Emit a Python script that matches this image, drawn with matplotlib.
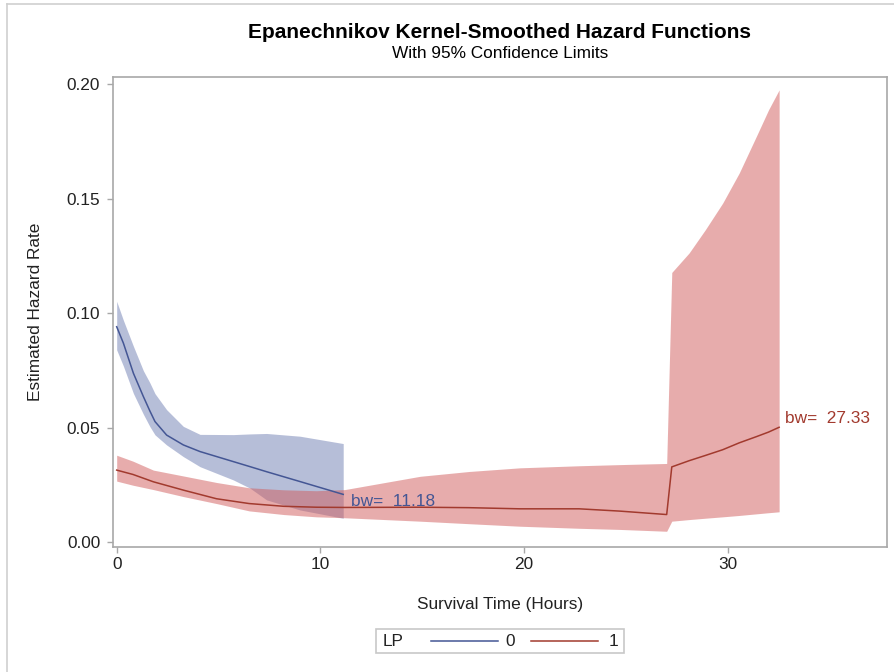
import matplotlib
matplotlib.use("Agg")
import matplotlib.pyplot as plt
from matplotlib.lines import Line2D
from matplotlib.patches import Rectangle

plt.rcParams["font.family"] = ["Liberation Sans", "DejaVu Sans"]

# LP = 0 : time, estimate, 95% limits
t0 = [0, 0.33, 0.82, 1.31, 1.63, 1.88, 2.45, 3.27, 4.09, 5.73, 6.55, 7.36, 9.0, 11.12]
est0 = [0.0942, 0.0870, 0.0739, 0.0637, 0.0574, 0.0528, 0.0469, 0.0426,
        0.0397, 0.0353, 0.0331, 0.0309, 0.0266, 0.0210]
hi0 = [0.1053, 0.0970, 0.0857, 0.0750, 0.0697, 0.0650, 0.0580, 0.0507,
       0.0472, 0.0471, 0.0474, 0.0476, 0.0464, 0.0432]
lo0 = [0.0841, 0.0770, 0.0651, 0.0560, 0.0506, 0.0470, 0.0426, 0.0375,
       0.0331, 0.0273, 0.0237, 0.0186, 0.0142, 0.0106]

# LP = 1
t1 = [0, 0.8, 1.8, 3.3, 4.9, 6.5, 8.2, 9.8, 11.2, 14.9, 17.3, 19.8, 22.7,
      24.7, 27.0, 27.25, 28.1, 28.9, 29.75, 30.56, 31.4, 32.0, 32.52]
est1 = [0.0316, 0.0297, 0.0265, 0.0228, 0.0191, 0.0170, 0.0158, 0.0154,
        0.0153, 0.0154, 0.0152, 0.0147, 0.0147, 0.0137, 0.0122, 0.0330,
        0.0357, 0.0380, 0.0405, 0.0435, 0.0462, 0.0482, 0.0503]
hi1 = [0.0381, 0.0355, 0.0316, 0.0290, 0.0262, 0.0239, 0.0230, 0.0226,
       0.0231, 0.0289, 0.0310, 0.0326, 0.0335, 0.0340, 0.0345, 0.1179,
       0.1264, 0.1366, 0.1482, 0.1613, 0.1773, 0.1889, 0.1976]
lo1 = [0.0268, 0.0250, 0.0231, 0.0200, 0.0170, 0.0138, 0.0122, 0.0112,
       0.0108, 0.0093, 0.0082, 0.0071, 0.0062, 0.0057, 0.0049, 0.0093,
       0.0100, 0.0106, 0.0112, 0.0118, 0.0125, 0.0130, 0.0134]

bw_labels = ["bw=  11.18", "bw=  27.33"]
group_labels = ["0", "1"]
x_ticks = [0, 10, 20, 30]
y_ticks = [0.00, 0.05, 0.10, 0.15, 0.20]

fill_cols = ["#6F7EB3", "#D05B5B"]
line_cols = ["#445694", "#A23A2E"]
frame_col = "#A8A8A8"
text_col = "#222222"
fs = 12.4

W, H = 894, 672
fig = plt.figure(figsize=(W / 100, H / 100), dpi=100)


def fx(px):
    return px / W


def fy(py):
    return 1 - py / H


# outer graph border (left and top only visible)
fig.add_artist(Line2D([fx(7), fx(7)], [fy(4), 0], color="#CFCFCF", lw=1.2))
fig.add_artist(Line2D([fx(7), 1], [fy(4), fy(4)], color="#CFCFCF", lw=1.2))

left, right, top, bottom = 112.7, 887.3, 77.3, 547.0
ax = fig.add_axes([fx(left), fy(bottom), fx(right - left), (bottom - top) / H])

for t, lo, hi, est, fc, lc in [(t0, lo0, hi0, est0, fill_cols[0], line_cols[0]),
                                (t1, lo1, hi1, est1, fill_cols[1], line_cols[1])]:
    ax.fill_between(t, lo, hi, color=fc, alpha=0.5, lw=0)
    ax.plot(t, est, color=lc, lw=1.1)

ax.text(11.5, 0.0180, bw_labels[0], color=line_cols[0], fontsize=fs,
        va="center", ha="left")
ax.text(32.83, 0.0540, bw_labels[1], color=line_cols[1], fontsize=fs,
        va="center", ha="left")

ax.set_xlim(-0.196, 37.83)
ax.set_ylim(-0.00197, 0.2031)
ax.set_xticks(x_ticks)
ax.set_yticks(y_ticks)
ax.set_yticklabels([f"{v:.2f}" for v in y_ticks])
for s in ax.spines.values():
    s.set_color(frame_col)
    s.set_linewidth(1.2)
ax.tick_params(colors=frame_col, labelcolor=text_col, labelsize=fs,
               length=4.5, width=1.0)
ax.tick_params(axis="y", pad=4.5)
ax.tick_params(axis="x", pad=3)
ax.set_xlabel("Survival Time (Hours)", fontsize=fs, color=text_col, labelpad=18)
ax.set_ylabel("Estimated Hazard Rate", fontsize=fs, color=text_col, labelpad=17)

fig.text(fx(500), fy(32), "Epanechnikov Kernel-Smoothed Hazard Functions",
         ha="center", va="center", fontsize=15, fontweight="bold", color="black")
fig.text(fx(500), fy(53), "With 95% Confidence Limits", ha="center",
         va="center", fontsize=fs, color="black")

# legend box
fig.add_artist(Rectangle((fx(376), fy(653)), fx(624 - 376), (653 - 629) / H,
                         fill=False, edgecolor="#C8C8C8", lw=1.2))
ly = fy(641)
fig.text(fx(383), ly, "LP", ha="left", va="center", fontsize=fs, color=text_col)
for (x0, x1, xt), lc, lab in zip([(431, 498, 510), (531, 598, 613)], line_cols, group_labels):
    fig.add_artist(Line2D([fx(x0), fx(x1)], [ly, ly], color=lc, lw=1.1))
    fig.text(fx(xt), ly, lab, ha="center", va="center", fontsize=fs, color=text_col)

fig.savefig("out.png", dpi=100)
